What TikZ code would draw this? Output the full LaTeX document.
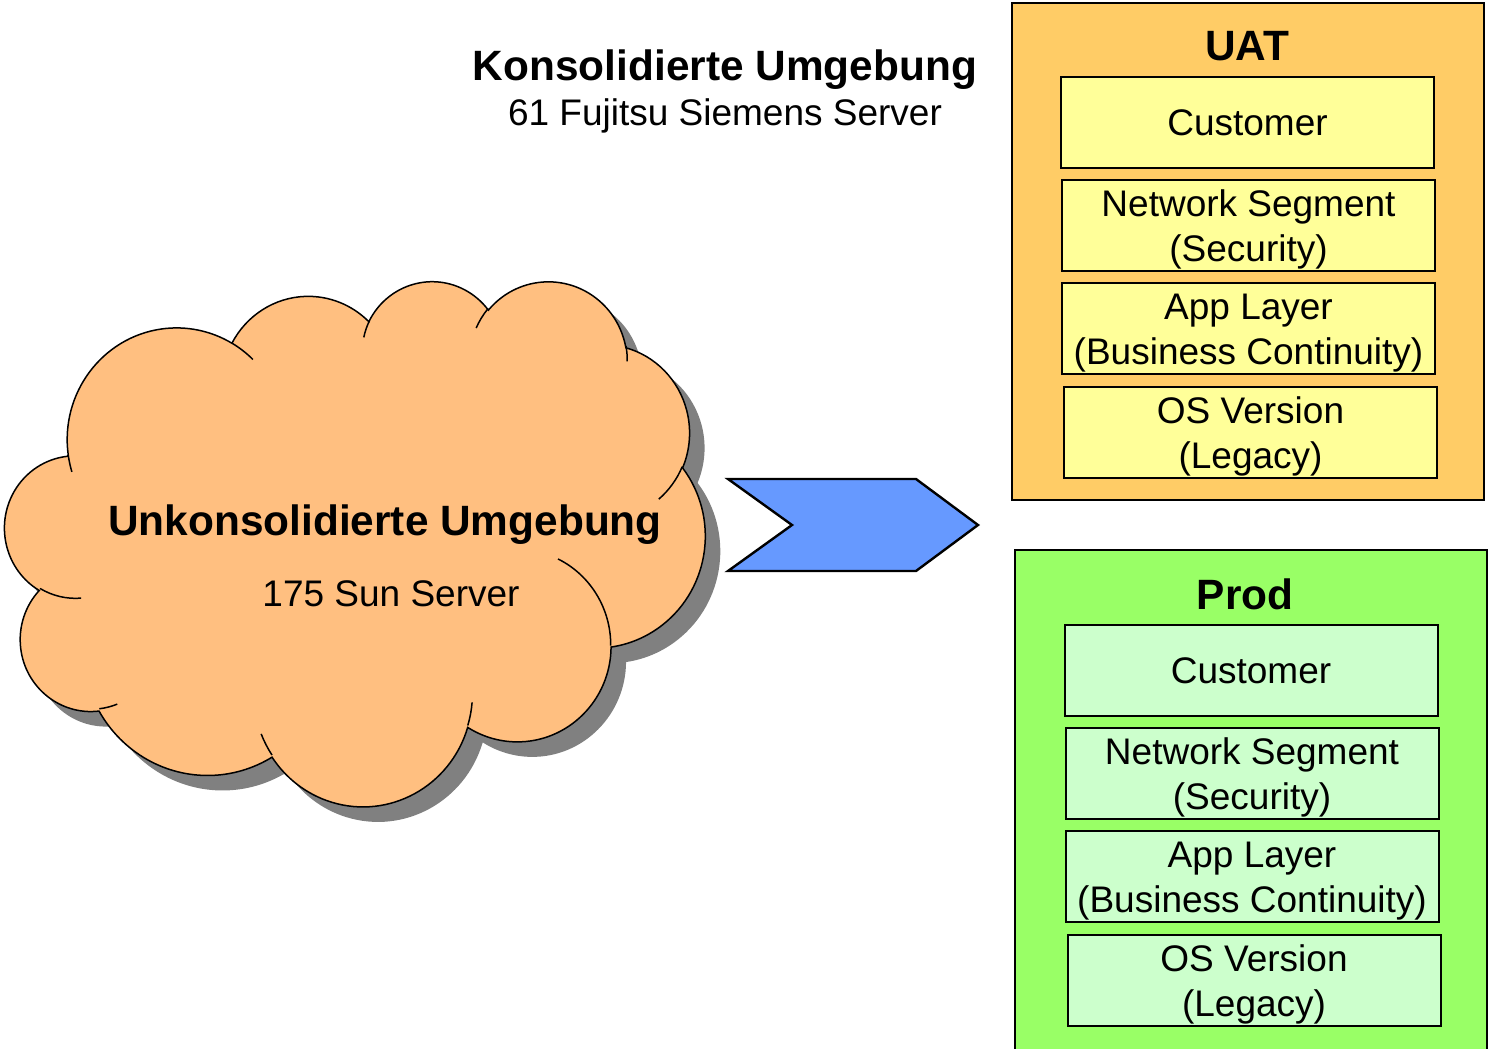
\documentclass[tikz,border=0pt]{standalone}
\usepackage{fontspec}
\setmainfont{Liberation Sans}

\definecolor{cloudfill}{HTML}{FFBF80}
\definecolor{cloudshadow}{HTML}{808080}
\definecolor{uatpanel}{HTML}{FFCC66}
\definecolor{uatlayer}{HTML}{FFFF99}
\definecolor{prodpanel}{HTML}{99FF66}
\definecolor{prodlayer}{HTML}{CCFFCC}
\definecolor{chevronblue}{HTML}{6699FF}

% One elliptical lobe of the cloud: x radius, y radius,
% start angle and sweep, both given as ray angles from the lobe centre.
\newcommand\lobearc[4]{%
  \pgfextra{%
    \pgfmathsetmacro\lobeS{atan2((#1)*sin(#3),(#2)*cos(#3))}%
    \pgfmathsetmacro\lobeE{atan2((#1)*sin((#3)+(#4)),(#2)*cos((#3)+(#4)))}%
    \pgfmathsetmacro\lobeD{mod(\lobeE-\lobeS+720,360)}%
    \global\let\lobeS\lobeS\global\let\lobeD\lobeD}%
  arc[x radius=#1, y radius=#2, start angle=\lobeS, delta angle=\lobeD]}

% Outline of the cloud on a 43.2 x 43.2 grid
\newcommand\cloudoutline{%
  (3.900,14.370)
  \lobearc{6.753}{9.190}{-190.4875}{123.7805}
  \lobearc{5.333}{7.267}{-144.1024}{89.9452}
  \lobearc{4.365}{5.945}{-145.8079}{99.7230}
  \lobearc{4.857}{6.595}{-130.9861}{117.2417}
  \lobearc{5.333}{7.273}{-78.7089}{109.0269}
  \lobearc{6.775}{9.220}{-46.2673}{130.2690}
  \lobearc{5.785}{7.867}{0.6250}{114.0333}
  \lobearc{6.752}{9.215}{22.4516}{115.1726}
  \lobearc{7.720}{10.543}{66.2426}{75.7110}
  \lobearc{4.360}{5.918}{-274.9421}{146.7356}
  \lobearc{4.345}{5.945}{-246.8285}{152.5189}
  -- cycle}

% taller first line, so two-line labels sit a little lower in their boxes
\newcommand\toppad{\rule{0pt}{17.5pt}}

\tikzset{
  titlefont/.style={font=\fontsize{21.2}{25}\selectfont\bfseries},
  bodyfont/.style={font=\fontsize{18.5}{22.5}\selectfont},
  panel/.style={draw=black, line width=1pt, inner sep=0pt, minimum width=236pt},
  layer/.style={draw=black, line width=1pt, inner sep=0pt, align=center,
    minimum width=186.5pt, minimum height=45.5pt, bodyfont},
}

\begin{document}
\begin{tikzpicture}[x=0.5pt,y=-0.5pt]
\useasboundingbox (0,0) rectangle (1488,1049);

% ---- cloud with its drop shadow ----
\begin{scope}[shift={(5,280)}, x=8.10185pt, y=-6.0764pt]
  \fill[cloudshadow, shift={(7.5pt,-7.5pt)}] \cloudoutline;
  \filldraw[fill=cloudfill, draw=black, line width=0.75pt] \cloudoutline;
  \draw[line width=0.75pt]
    (4.693,26.177)  \lobearc{4.345}{5.945}{86.742}{26.4295}
    (6.928,34.899)  \lobearc{4.360}{5.918}{73.6105}{11.4475}
    (16.478,39.090) \lobearc{6.752}{9.215}{137.6242}{14.0811}
    (28.827,34.751) \lobearc{6.752}{9.215}{6.4533}{15.9984}
    (34.129,22.954) \lobearc{5.785}{7.867}{-70.2924}{70.9174}
    (41.798,15.354) \lobearc{5.333}{7.273}{30.3180}{27.7515}
    (38.324,5.426)  \lobearc{4.857}{6.595}{-13.7443}{14.8589}
    (29.078,3.952)  \lobearc{4.857}{6.595}{-149.1815}{18.1954}
    (22.141,4.720)  \lobearc{4.365}{5.945}{-163.4943}{17.6864}
    (14.000,5.192)  \lobearc{6.753}{9.190}{-66.7070}{12.3194}
    (4.127,15.789)  \lobearc{6.753}{9.190}{157.6544}{11.8582};
\end{scope}
\node[titlefont, anchor=base] (cloudtitle) at (385,535) {Unkonsolidierte Umgebung};
\node[bodyfont, anchor=base] (cloudsub) at (391,606) {175 Sun Server};

% ---- chevron ----
\filldraw[fill=chevronblue, draw=black, line width=1.2pt, line join=miter]
  (728,479) -- (916,479) -- (978,525) -- (916,571) -- (728,571) -- (792,525) -- cycle;

% ---- heading ----
\node[titlefont, anchor=base] (konstitle) at (725,80) {Konsolidierte Umgebung};
\node[bodyfont, anchor=base] (konssub) at (725,125) {61 Fujitsu Siemens Server};

% ---- UAT stack ----
\node[panel, fill=uatpanel, minimum height=248.5pt] (uat) at (1248,251.5) {};
\node[titlefont, anchor=base] (uattitle) at (1247,61) {UAT};
\node[layer, fill=uatlayer] (uatcust) at (1247.5,122.5) {Customer};
\node[layer, fill=uatlayer] (uatnet)  at (1248.5,225.5) {\toppad Network Segment\\(Security)};
\node[layer, fill=uatlayer] (uatapp)  at (1248.5,328.5) {\toppad App Layer\\(Business Continuity)};
\node[layer, fill=uatlayer] (uatos)   at (1250.5,432)   {\toppad OS Version\\(Legacy)};

% ---- Prod stack ----
\node[panel, fill=prodpanel, minimum height=251pt] (prod) at (1251,801) {};
\node[titlefont, anchor=base] (prodtitle) at (1245,609) {Prod};
\node[layer, fill=prodlayer] (prodcust) at (1251,670.5) {Customer};
\node[layer, fill=prodlayer] (prodnet)  at (1252,773.5) {\toppad Network Segment\\(Security)};
\node[layer, fill=prodlayer] (prodapp)  at (1252,876.5) {\toppad App Layer\\(Business Continuity)};
\node[layer, fill=prodlayer] (prodos)   at (1254,980)   {\toppad OS Version\\(Legacy)};
\end{tikzpicture}
\end{document}
